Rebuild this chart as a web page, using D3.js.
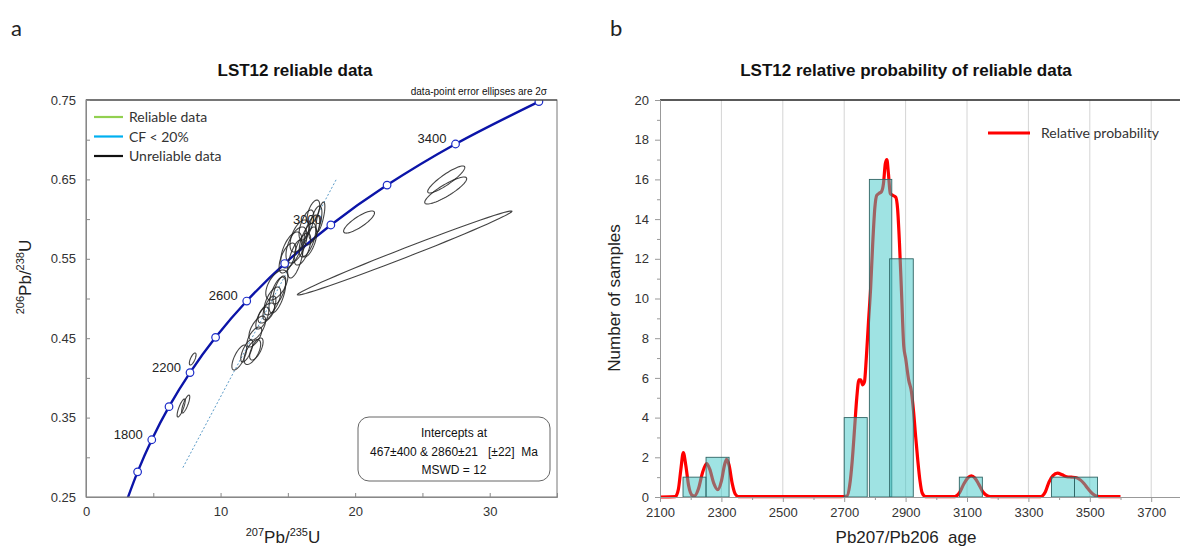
<!DOCTYPE html>
<html>
<head>
<meta charset="utf-8">
<script src="https://cdn.jsdelivr.net/npm/d3@7/dist/d3.min.js"></script>
<style>
  body { margin: 0; background: #fff; }
  text { font-family: "Liberation Sans", Arial, sans-serif; }
  .calibri { font-family: Lato, "Open Sans", sans-serif; }
</style>
</head>
<body>
<svg id="chart" width="1180" height="552"></svg>
<script>
// ---------- panel a : concordia ----------
// concordia curve, age (Ma) with 207Pb/235U and 206Pb/238U
var concAge = [1400, 1600, 1800, 2000, 2200, 2400, 2600, 2800, 3000, 3200, 3400, 3600];
var concX   = [2.970, 3.835, 4.887, 6.169, 7.729, 9.630, 11.944, 14.763, 18.194, 22.373, 27.460, 33.655];
var concY   = [0.2426, 0.2817, 0.3221, 0.3638, 0.4067, 0.4511, 0.4968, 0.5440, 0.5926, 0.6428, 0.6946, 0.7480];
var labelAges = [1800, 2200, 2600, 3000, 3400];

// discordia end points
var discX = [7.2, 18.6];
var discY = [0.287, 0.650];

// error ellipses : centre, half widths, correlation
var ellX   = [23.68, 20.29, 26.77, 26.73,
              17.42, 17.05, 16.79, 16.46, 15.64, 15.26, 15.56, 16.08, 16.60, 16.38, 14.97, 15.86, 16.90,
              14.18, 14.22, 13.85, 14.37, 13.40, 13.63, 12.73, 12.51, 12.66, 12.36, 11.95, 11.39, 13.10,
              7.93, 7.07, 7.41];
var ellY   = [0.5573, 0.5963, 0.6499, 0.6360,
              0.6026, 0.5951, 0.5863, 0.5737, 0.5674, 0.5611, 0.5497, 0.5623, 0.5712, 0.5926, 0.5510, 0.5787, 0.6089,
              0.5170, 0.5044, 0.4969, 0.5107, 0.4817, 0.4880, 0.4628, 0.4515, 0.4364, 0.4326, 0.4339, 0.4257, 0.4754,
              0.4238, 0.3621, 0.3671];
var ellSX  = [7.97, 1.15, 1.38, 1.56,
              0.33, 0.48, 0.58, 0.62, 0.78, 0.78, 0.58, 0.62, 0.55, 0.55, 0.62, 0.70, 0.47,
              0.82, 0.62, 0.62, 0.48, 0.62, 0.48, 0.62, 0.55, 0.50, 0.62, 0.45, 0.55, 0.48,
              0.25, 0.30, 0.30];
var ellSY  = [0.0529, 0.0139, 0.0170, 0.0170,
              0.0189, 0.0214, 0.0189, 0.0214, 0.0227, 0.0227, 0.0239, 0.0202, 0.0189, 0.0189, 0.0189, 0.0202, 0.0151,
              0.0189, 0.0227, 0.0176, 0.0176, 0.0126, 0.0151, 0.0151, 0.0126, 0.0139, 0.0157, 0.0139, 0.0157, 0.0139,
              0.0076, 0.0113, 0.0113];
var ellRho = [0.993, 0.83, 0.89, 0.87,
              0.7, 0.62, 0.6, 0.62, 0.55, 0.55, 0.62, 0.6, 0.62, 0.6, 0.6, 0.55, 0.55,
              0.55, 0.62, 0.62, 0.65, 0.6, 0.65, 0.65, 0.65, 0.65, 0.62, 0.7, 0.7, 0.65,
              0.7, 0.8, 0.8];

var legendNames  = ["Reliable data", "CF < 20%", "Unreliable data"];
var legendColors = ["#92d050", "#00b0f0", "#111111"];

// ---------- panel b : histogram + probability ----------
var binLo    = [2175, 2250, 2700, 2782, 2848, 3075, 3375, 3450];
var binHi    = [2250, 2325, 2775, 2855, 2925, 3150, 3450, 3525];
var binCount = [1, 2, 4, 16, 12, 1, 1, 1];

var probAge = [2100, 2150, 2160, 2168, 2176, 2184, 2193, 2205, 2212, 2225, 2238, 2252, 2262, 2275, 2288, 2300, 2310, 2317, 2325, 2335, 2345, 2355,
               2690, 2709, 2718, 2726, 2734, 2741, 2748, 2754, 2760, 2766, 2772, 2779, 2786, 2793, 2800, 2806, 2814, 2822, 2828, 2834, 2839, 2844, 2850, 2858, 2868, 2874, 2880, 2887, 2894, 2900, 2910, 2919, 2926, 2933, 2940, 2947, 2954, 2965,
               3060, 3075, 3090, 3102, 3114, 3126, 3138, 3152, 3168, 3180,
               3340, 3355, 3367, 3380, 3395, 3410, 3425, 3440, 3457, 3470, 3481, 3495, 3510, 3525, 3540, 3600];
var probVal = [0, 0.02, 0.4, 1.4, 2.24, 1.6, 0.6, 0.08, 0.05, 0.4, 1.2, 1.68, 1.4, 0.7, 0.37, 0.8, 1.6, 1.9, 1.6, 0.7, 0.15, 0.02,
               0.02, 0.05, 0.6, 1.8, 3.5, 5.0, 5.9, 5.9, 5.65, 5.8, 7.0, 8.8, 10.5, 12.8, 14.6, 15.2, 15.3, 15.4, 15.8, 16.8, 17.0, 16.3, 15.3, 15.2, 15.1, 14.5, 12.8, 10.2, 7.6, 7.0, 5.9, 5.3, 4.3, 3.0, 1.8, 0.8, 0.2, 0.02,
               0.02, 0.2, 0.67, 0.95, 1.07, 0.95, 0.65, 0.25, 0.05, 0.02,
               0.02, 0.25, 0.75, 1.08, 1.2, 1.12, 1.02, 1.0, 0.97, 0.85, 0.68, 0.4, 0.15, 0.03, 0.02, 0.02];

var svg = d3.select("#chart");

// ================= Concordia chart =================
class ConcordiaChart {
  constructor(svg) {
    this.svg = svg;
    this.initChart();
  }

  initChart() {
    var vis = this;
    vis.left = 86; vis.right = 557; vis.top = 100; vis.bottom = 497;

    vis.x = d3.scaleLinear().domain([0, 35]).range([vis.left, vis.right]);
    vis.y = d3.scaleLinear().domain([0.25, 0.75]).range([vis.bottom, vis.top]);

    vis.g = vis.svg.append("g");

    // panel letter + title
    vis.g.append("text").attr("class", "calibri").attr("x", 11).attr("y", 36)
      .attr("font-size", 22).attr("fill", "#222").text("a");
    vis.g.append("text").attr("x", 295).attr("y", 76).attr("text-anchor", "middle")
      .attr("font-size", 17).attr("font-weight", "bold").attr("fill", "#111").text("LST12 reliable data");
    vis.g.append("text").attr("x", 547).attr("y", 95).attr("text-anchor", "end")
      .attr("font-size", 10).attr("fill", "#111").text("data-point error ellipses are 2\u03c3");

    vis.g.append("clipPath").attr("id", "clipA").append("rect")
      .attr("x", vis.left).attr("y", vis.top)
      .attr("width", vis.right - vis.left).attr("height", vis.bottom - vis.top);

    vis.plot = vis.g.append("g").attr("clip-path", "url(#clipA)");

    // discordia
    vis.plot.append("line")
      .attr("x1", vis.x(discX[0])).attr("y1", vis.y(discY[0]))
      .attr("x2", vis.x(discX[1])).attr("y2", vis.y(discY[1]))
      .attr("stroke", "#5b9bc8").attr("stroke-width", 1).attr("stroke-dasharray", "2,2");

    // concordia curve
    var pts = concAge.map((a, i) => [concX[i], concY[i]]);
    vis.plot.append("path")
      .attr("d", d3.line().x(d => vis.x(d[0])).y(d => vis.y(d[1])).curve(d3.curveCatmullRom)(pts))
      .attr("fill", "none").attr("stroke", "#0b14a8").attr("stroke-width", 2.4);

    // ellipses
    var thetas = d3.range(0, 64).map(k => k / 64 * 2 * Math.PI);
    var ell = d3.line().curve(d3.curveLinearClosed);
    ellX.forEach(function (cx, i) {
      var r = ellRho[i], q = Math.sqrt(1 - r * r);
      var ring = thetas.map(t => [
        vis.x(cx + ellSX[i] * Math.cos(t)),
        vis.y(ellY[i] + ellSY[i] * (r * Math.cos(t) + q * Math.sin(t)))
      ]);
      vis.plot.append("path").attr("d", ell(ring))
        .attr("fill", "none").attr("stroke", "#222").attr("stroke-width", 1.1).attr("stroke-opacity", 0.85);
    });

    // concordia markers
    vis.plot.selectAll(".mk").data(concAge.filter(a => a >= 1600)).enter()
      .append("circle").attr("class", "mk")
      .attr("cx", a => vis.x(concX[concAge.indexOf(a)]))
      .attr("cy", a => vis.y(concY[concAge.indexOf(a)]))
      .attr("r", 3.8).attr("fill", "#fff").attr("stroke", "#1c2cc8").attr("stroke-width", 1.2);

    // age labels
    vis.g.selectAll(".agelab").data(labelAges).enter()
      .append("text").attr("class", "agelab")
      .attr("x", a => vis.x(concX[concAge.indexOf(a)]) - 9)
      .attr("y", a => vis.y(concY[concAge.indexOf(a)]) - 1)
      .attr("text-anchor", "end").attr("font-size", 13).attr("fill", "#222")
      .text(a => a);

    // frame
    vis.g.append("rect").attr("x", vis.left).attr("y", vis.top)
      .attr("width", vis.right - vis.left).attr("height", vis.bottom - vis.top)
      .attr("fill", "none").attr("stroke", "#777").attr("stroke-width", 1);
    vis.g.append("line").attr("x1", vis.left).attr("x2", vis.right).attr("y1", vis.top).attr("y2", vis.top)
      .attr("stroke", "#333");

    // axes
    var xAxis = d3.axisBottom(vis.x).tickValues(d3.range(0, 36, 5)).tickSize(-4).tickPadding(10)
      .tickFormat(d => d % 10 === 0 ? d : "");
    var yAxis = d3.axisLeft(vis.y).tickValues(d3.range(0.25, 0.751, 0.05)).tickSize(-4).tickPadding(10)
      .tickFormat(d => Math.round(d * 100) % 10 === 5 ? d.toFixed(2) : "");
    vis.styleAxis(vis.g.append("g").attr("transform", "translate(0," + vis.bottom + ")").call(xAxis));
    vis.styleAxis(vis.g.append("g").attr("transform", "translate(" + vis.left + ",0)").call(yAxis));

    // axis titles
    var yt = vis.g.append("text").attr("transform", "translate(31,277) rotate(-90)")
      .attr("text-anchor", "middle").attr("fill", "#222").attr("font-size", 17);
    yt.append("tspan").attr("font-size", 11).attr("dy", -7).text("206");
    yt.append("tspan").attr("dy", 7).text("Pb/");
    yt.append("tspan").attr("font-size", 11).attr("dy", -7).text("238");
    yt.append("tspan").attr("dy", 7).text("U");

    var xt = vis.g.append("text").attr("x", 283).attr("y", 543)
      .attr("text-anchor", "middle").attr("fill", "#222").attr("font-size", 17);
    xt.append("tspan").attr("font-size", 11).attr("dy", -7).text("207");
    xt.append("tspan").attr("dy", 7).text("Pb/");
    xt.append("tspan").attr("font-size", 11).attr("dy", -7).text("235");
    xt.append("tspan").attr("dy", 7).text("U");

    // legend
    var lg = vis.g.selectAll(".lg").data(legendNames).enter().append("g")
      .attr("class", "lg").attr("transform", (d, i) => "translate(94," + (117 + i * 19.5) + ")");
    lg.append("line").attr("x1", 0).attr("x2", 29)
      .attr("stroke", (d, i) => legendColors[i]).attr("stroke-width", 2.2);
    lg.append("text").attr("class", "calibri").attr("x", 35).attr("y", 5)
      .attr("font-size", 14).attr("fill", "#333").text(d => d);

    // intercept box
    vis.g.append("rect").attr("x", 358).attr("y", 417).attr("width", 192).attr("height", 64)
      .attr("rx", 11).attr("fill", "#fff").attr("stroke", "#666").attr("stroke-width", 1);
    var boxLines = ["Intercepts at", "467\u00b1400 & 2860\u00b121   [\u00b122]  Ma", "MSWD = 12"];
    vis.g.selectAll(".bx").data(boxLines).enter().append("text")
      .attr("x", 454).attr("y", (d, i) => 437 + i * 18.5).attr("text-anchor", "middle")
      .attr("font-size", 12).attr("fill", "#111").style("white-space", "pre").text(d => d);
  }

  styleAxis(sel) {
    sel.select(".domain").attr("stroke", "#888");
    sel.selectAll(".tick line").attr("stroke", "#888");
    sel.selectAll(".tick text").attr("font-size", 13).attr("fill", "#333")
      .attr("font-family", "'Liberation Sans', Arial, sans-serif");
  }
}

// ================= Probability chart =================
class ProbabilityChart {
  constructor(svg) {
    this.svg = svg;
    this.initChart();
  }

  initChart() {
    var vis = this;
    vis.left = 660; vis.top = 100; vis.bottom = 497;

    vis.x = d3.scaleLinear().domain([2100, 3800]).range([vis.left, vis.left + 1700 * 0.307]);
    vis.y = d3.scaleLinear().domain([0, 20]).range([vis.bottom, vis.top]);

    vis.g = vis.svg.append("g");

    vis.g.append("text").attr("class", "calibri").attr("x", 610).attr("y", 36)
      .attr("font-size", 22).attr("fill", "#222").text("b");
    vis.g.append("text").attr("x", 906).attr("y", 76).attr("text-anchor", "middle")
      .attr("font-size", 17).attr("font-weight", "bold").attr("fill", "#111")
      .text("LST12 relative probability of reliable data");

    // vertical grid
    vis.g.selectAll(".grid").data(d3.range(2300, 3800, 200)).enter().append("line")
      .attr("class", "grid")
      .attr("x1", d => vis.x(d)).attr("x2", d => vis.x(d))
      .attr("y1", vis.top).attr("y2", vis.bottom)
      .attr("stroke", "#d4d4d4").attr("stroke-width", 1);

    // top border
    vis.g.append("line").attr("x1", vis.left).attr("x2", 1180)
      .attr("y1", vis.top).attr("y2", vis.top).attr("stroke", "#222").attr("stroke-width", 1.4);

    // probability curve
    var pts = probAge.map((a, i) => [a, probVal[i]]);
    vis.g.append("path")
      .attr("d", d3.line().x(d => vis.x(d[0])).y(d => vis.y(d[1])).curve(d3.curveMonotoneX)(pts))
      .attr("fill", "none").attr("stroke", "#ff0000").attr("stroke-width", 3.2)
      .attr("stroke-linejoin", "round");

    // histogram bars
    vis.g.selectAll(".bar").data(binCount).enter().append("rect")
      .attr("class", "bar")
      .attr("x", (d, i) => vis.x(binLo[i]))
      .attr("width", (d, i) => vis.x(binHi[i]) - vis.x(binLo[i]))
      .attr("y", d => vis.y(d))
      .attr("height", d => vis.y(0) - vis.y(d))
      .attr("fill", "rgb(64,200,200)").attr("fill-opacity", 0.5)
      .attr("stroke", "#2f6464").attr("stroke-width", 0.9);

    // axes
    var yMajor = d3.axisLeft(vis.y).tickValues(d3.range(0, 21, 2)).tickSize(5).tickPadding(6);
    var yMinor = d3.axisLeft(vis.y).tickValues(d3.range(1, 20, 2)).tickSize(3).tickFormat("");
    var xMajor = d3.axisBottom(vis.x).tickValues(d3.range(2100, 3800, 200)).tickSize(5).tickPadding(6)
      .tickFormat(d3.format("d"));
    var xMinor = d3.axisBottom(vis.x).tickValues(d3.range(2200, 3800, 200)).tickSize(3).tickFormat("");

    [yMinor, yMajor].forEach(a => vis.styleAxis(vis.g.append("g").attr("transform", "translate(" + vis.left + ",0)").call(a)));
    [xMinor, xMajor].forEach(a => vis.styleAxis(vis.g.append("g").attr("transform", "translate(0," + vis.bottom + ")").call(a)));

    vis.g.append("text").attr("transform", "translate(620,298) rotate(-90)")
      .attr("text-anchor", "middle").attr("font-size", 17).attr("fill", "#222").text("Number of samples");
    vis.g.append("text").attr("x", 906).attr("y", 543).attr("text-anchor", "middle")
      .attr("font-size", 17).attr("fill", "#222").style("white-space", "pre").text("Pb207/Pb206  age");

    // legend
    vis.g.append("line").attr("x1", 988).attr("x2", 1030).attr("y1", 133).attr("y2", 133)
      .attr("stroke", "#ff0000").attr("stroke-width", 3);
    vis.g.append("text").attr("class", "calibri").attr("x", 1041).attr("y", 138)
      .attr("font-size", 14).attr("fill", "#333").text("Relative probability");
  }

  styleAxis(sel) {
    sel.select(".domain").attr("stroke", "#999");
    sel.selectAll(".tick line").attr("stroke", "#999");
    sel.selectAll(".tick text").attr("font-size", 13).attr("fill", "#333")
      .attr("font-family", "'Liberation Sans', Arial, sans-serif");
  }
}

new ConcordiaChart(svg);
new ProbabilityChart(svg);
</script>
</body>
</html>
